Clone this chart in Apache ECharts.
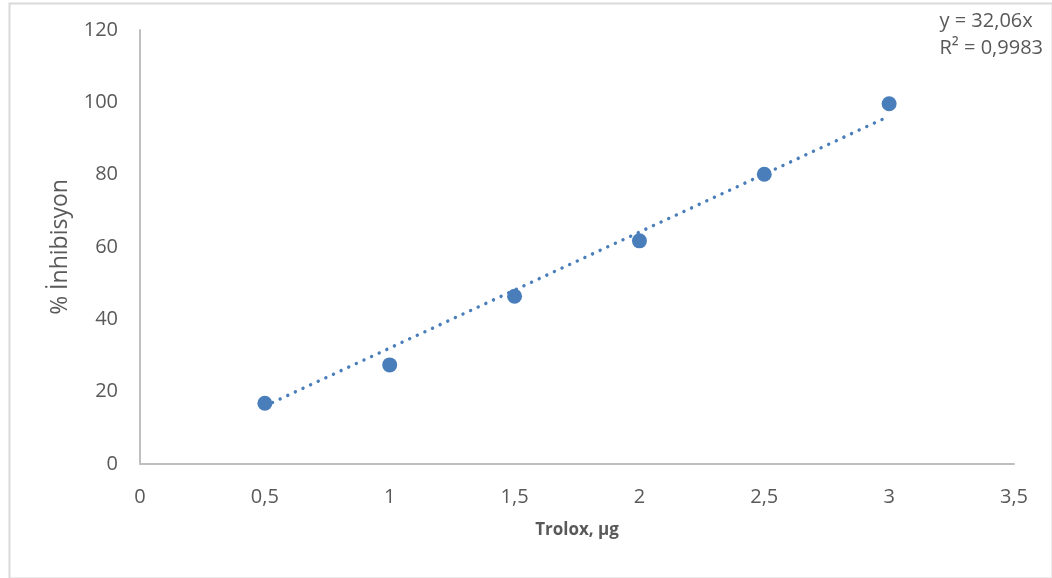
<!DOCTYPE html>
<html>
<head>
<meta charset="utf-8">
<script src="https://cdn.jsdelivr.net/npm/echarts@6/dist/echarts.min.js"></script>
<style>
  html, body { margin: 0; padding: 0; background: #fff; }
  #chart { width: 1052px; height: 578px; }
</style>
</head>
<body>
<div id="chart"></div>
<script>
// Trolox amount (µg) and measured inhibition (%)
const troloxUg = [0.5, 1, 1.5, 2, 2.5, 3];
const inhibitionPct = [16.8, 27.4, 46.4, 61.7, 80.1, 99.6];

// Linear fit through the origin
const slope = 32.06;
const rSquared = 0.9983;

const xTicks = { min: 0, max: 3.5, interval: 0.5 };
const yTicks = { min: 0, max: 120, interval: 20 };

const pointColor = '#4a7ebb';
const textColor = '#595959';
const fmt = v => String(v).replace('.', ',');

const fitStart = troloxUg[0];
const fitEnd = troloxUg[troloxUg.length - 1];
const fitLine = [[fitStart, slope * fitStart], [fitEnd, slope * fitEnd]];

const chart = echarts.init(document.getElementById('chart'), null, { renderer: 'canvas' });
chart.setOption({
  animation: false,
  backgroundColor: '#fff',
  textStyle: { fontFamily: 'Open Sans' },
  grid: { left: 140, right: 38, top: 30, bottom: 114, containLabel: false },
  graphic: [
    { type: 'rect', left: 7, top: 1, shape: { width: 1043, height: 575 },
      style: { fill: 'none', stroke: '#d9d9d9', lineWidth: 2 }, silent: true },
    { type: 'text', right: 9, top: 8,
      style: { text: 'y = ' + fmt(slope) + 'x\nR² = ' + fmt(rSquared),
               fill: textColor, font: '20px "Open Sans"', align: 'right', lineHeight: 27 } }
  ],
  xAxis: {
    type: 'value', min: xTicks.min, max: xTicks.max, interval: xTicks.interval,
    name: 'Trolox, µg', nameLocation: 'middle', nameGap: 58,
    nameTextStyle: { color: textColor, fontSize: 17, fontWeight: 'bold' },
    axisLine: { show: true, onZero: false, lineStyle: { color: '#bfbfbf', width: 2 } },
    axisTick: { show: false },
    splitLine: { show: false },
    axisLabel: { color: textColor, fontSize: 20, margin: 23, formatter: v => fmt(v) }
  },
  yAxis: {
    type: 'value', min: yTicks.min, max: yTicks.max, interval: yTicks.interval,
    name: '% İnhibisyon', nameLocation: 'middle', nameGap: 68,
    nameTextStyle: { color: textColor, fontSize: 23 },
    axisLine: { show: true, lineStyle: { color: '#bfbfbf', width: 2 } },
    axisTick: { show: false },
    splitLine: { show: false },
    axisLabel: { color: textColor, fontSize: 20, margin: 22 }
  },
  series: [
    {
      name: 'fit', type: 'line', data: fitLine, symbol: 'none', silent: true,
      lineStyle: { color: pointColor, width: 3.4, type: [0.1, 8.3], cap: 'round' },
      z: 1
    },
    {
      name: 'inhibition', type: 'scatter',
      data: troloxUg.map((x, i) => [x, inhibitionPct[i]]),
      symbol: 'circle', symbolSize: 15,
      itemStyle: { color: pointColor, opacity: 1 },
      z: 2
    }
  ]
});
</script>
</body>
</html>
